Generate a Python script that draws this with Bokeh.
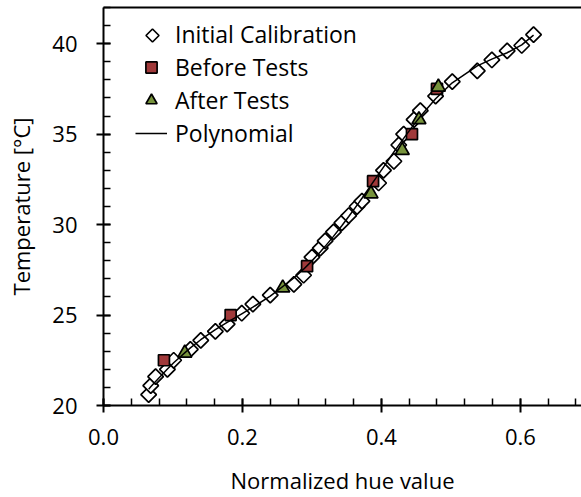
import numpy as np
from bokeh.plotting import figure
from bokeh.models import (Range1d, LinearAxis, SingleIntervalTicker, FixedTicker,
                          NumeralTickFormatter, Legend, LegendItem, PolyAnnotation)
from bokeh.embed import file_html
from bokeh.resources import INLINE

# Calibration data: normalized hue value vs. temperature [°C]
cal_hue = [0.065, 0.068, 0.075, 0.092, 0.101, 0.125, 0.140, 0.161, 0.178, 0.199,
           0.215, 0.240, 0.274, 0.288, 0.300, 0.312, 0.319, 0.331, 0.343, 0.353,
           0.365, 0.372, 0.396, 0.403, 0.418, 0.425, 0.432, 0.447, 0.456, 0.478,
           0.502, 0.538, 0.559, 0.581, 0.602, 0.619]
cal_temp = [20.6, 21.1, 21.6, 22.0, 22.5, 23.1, 23.6, 24.1, 24.5, 25.1,
            25.6, 26.1, 26.7, 27.2, 28.2, 28.7, 29.1, 29.6, 30.1, 30.5,
            31.0, 31.3, 32.3, 33.0, 33.5, 34.4, 35.0, 35.8, 36.3, 37.1,
            37.9, 38.5, 39.1, 39.6, 39.9, 40.5]

before_hue = [0.087, 0.183, 0.293, 0.388, 0.444, 0.480]
before_temp = [22.5, 25.0, 27.7, 32.4, 35.0, 37.5]

after_hue = [0.117, 0.258, 0.385, 0.430, 0.454, 0.482]
after_temp = [22.9, 26.5, 31.7, 34.1, 35.8, 37.6]

# Polynomial trend line fitted to the initial calibration
poly_coef = np.polyfit(cal_hue, cal_temp, 6)
poly_temp = np.polyval(poly_coef, cal_hue)

FONT = "Open Sans"

p = figure(width=581, height=497, output_backend="svg", toolbar_location=None,
           x_range=Range1d(0, 0.688), y_range=Range1d(20, 42),
           min_border_left=103, min_border_right=0, min_border_top=7,
           min_border_bottom=90, x_axis_label="Normalized hue value",
           y_axis_label="Temperature [°C]")
p.outline_line_color = None
p.xgrid.visible = False
p.ygrid.visible = False
p.background_fill_color = "white"
p.border_fill_color = "white"

p.xaxis.ticker = SingleIntervalTicker(interval=0.2, num_minor_ticks=5)
p.xaxis.formatter = NumeralTickFormatter(format="0.0")
p.yaxis.ticker = SingleIntervalTicker(interval=5, num_minor_ticks=5)

for ax in (p.xaxis[0], p.yaxis[0]):
    ax.axis_line_width = 2
    ax.axis_line_color = "black"
    ax.major_tick_line_width = 2
    ax.major_tick_line_color = "black"
    ax.minor_tick_line_width = 1.5
    ax.minor_tick_line_color = "black"
    ax.major_tick_in = 7
    ax.major_tick_out = 7
    ax.minor_tick_in = 7
    ax.minor_tick_out = 0
    ax.major_label_text_font = FONT
    ax.major_label_text_font_size = "22px"
    ax.major_label_text_color = "black"
    ax.axis_label_text_font = FONT
    ax.axis_label_text_font_size = "22px"
    ax.axis_label_text_font_style = "normal"
    ax.axis_label_text_color = "black"

p.xaxis.major_label_standoff = 16
p.xaxis.axis_label_standoff = 17
p.yaxis.major_label_standoff = 19
p.yaxis.axis_label_standoff = 13

# top frame line
top_axis = LinearAxis(ticker=FixedTicker(ticks=[]), major_label_text_font_size="0px",
                      axis_line_width=2, axis_line_color="black",
                      major_tick_line_color=None, minor_tick_line_color=None)
p.add_layout(top_axis, "above")

r_cal = p.scatter(cal_hue, cal_temp, marker="square", angle=np.pi / 4, size=11,
                  fill_color="white", line_color="black", line_width=1.7)
r_before = p.scatter(before_hue, before_temp, marker="square", size=11,
                     fill_color="#A0393A", line_color="black", line_width=1.7)
r_after = p.scatter(after_hue, after_temp, marker="triangle", size=14,
                    fill_color="#77933C", line_color="black", line_width=1.7)
r_poly = p.line(cal_hue, poly_temp, line_color="black", line_width=1.5)

# blank key for the calibration entry; its diamond is drawn as an annotation
r_cal_key = p.scatter([], [], marker="square", fill_alpha=0, line_alpha=0)

LEG_X, LEG_Y = 32, 256
legend = Legend(items=[
    LegendItem(label="Initial Calibration", renderers=[r_cal_key]),
    LegendItem(label="Before Tests", renderers=[r_before]),
    LegendItem(label="After Tests", renderers=[r_after]),
    LegendItem(label="Polynomial", renderers=[r_poly]),
], location=(LEG_X, LEG_Y))
legend.label_text_font = FONT
legend.label_text_font_size = "23px"
legend.label_text_color = "black"
legend.glyph_width = 32
legend.glyph_height = 28
legend.label_height = 26
legend.spacing = 1
legend.padding = 0
legend.margin = 0
legend.label_standoff = 8
legend.border_line_color = None
legend.background_fill_alpha = 0
p.add_layout(legend, "center")

# diamond key (screen units, from the frame's lower-left corner)
kx, ky, kr = 49, 370, 6.5
key = PolyAnnotation(xs=[kx, kx + kr, kx, kx - kr], ys=[ky + kr, ky, ky - kr, ky],
                     xs_units="screen", ys_units="screen",
                     fill_color="white", fill_alpha=1,
                     line_color="black", line_alpha=1, line_width=1.7)
p.add_layout(key)

open("out.html", "w").write(file_html(p, INLINE))
